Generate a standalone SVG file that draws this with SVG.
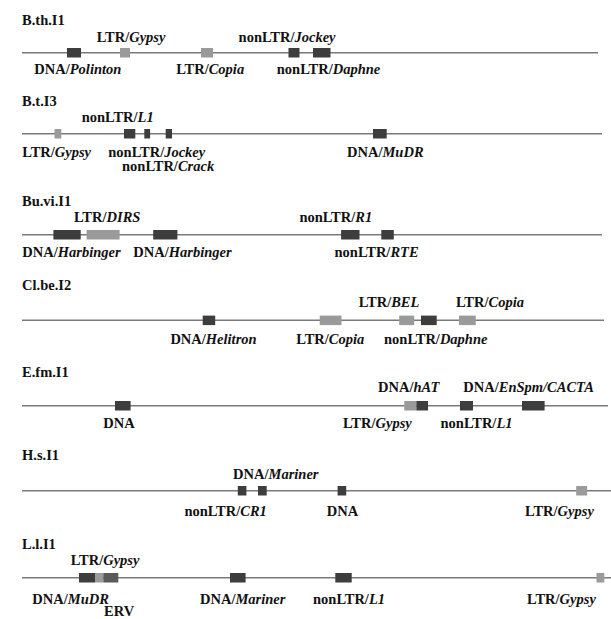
<svg xmlns="http://www.w3.org/2000/svg" width="611" height="619" viewBox="0 0 611 619">
<style>
text{font-family:"Liberation Serif","Times New Roman",serif;font-weight:bold;font-size:14.5px;fill:#111}
.i{font-style:italic}
.bb{stroke:#7a7a7a;stroke-width:1.6;fill:none}
.d{fill:#3d3d3d}
.l{fill:#9a9a9a}
.m{fill:#5a5a5a}
</style>
<rect width="611" height="619" fill="#fff"/>
<g id="backbones">
<line class="bb" x1="22" y1="52.7" x2="598" y2="52.7"/>
<line class="bb" x1="22" y1="133.7" x2="602" y2="133.7"/>
<line class="bb" x1="22" y1="234.7" x2="602" y2="234.7"/>
<line class="bb" x1="22" y1="320.3" x2="604" y2="320.3"/>
<line class="bb" x1="22" y1="405.7" x2="608" y2="405.7"/>
<line class="bb" x1="22" y1="490.7" x2="611" y2="490.7"/>
<line class="bb" x1="22" y1="577.7" x2="611" y2="577.7"/>
</g>
<g id="track-Bth">
<text x="22" y="25">B.th.I1</text>
<rect class="d" x="67" y="48" width="14" height="9.5"/>
<rect class="l" x="120" y="48" width="10" height="9.5"/>
<rect class="l" x="201" y="48" width="12" height="9.5"/>
<rect class="d" x="288.5" y="48" width="11" height="9.5"/>
<rect class="d" x="313" y="48" width="17.5" height="9.5"/>
<text x="96.7" y="41.7">LTR/<tspan class="i">Gypsy</tspan></text>
<text x="238.6" y="41.7">nonLTR/<tspan class="i">Jockey</tspan></text>
<text x="34.3" y="73.8">DNA/<tspan class="i">Polinton</tspan></text>
<text x="176.2" y="73.8">LTR/<tspan class="i">Copia</tspan></text>
<text x="276.8" y="73.8">nonLTR/<tspan class="i">Daphne</tspan></text>
</g>
<g id="track-Bt">
<text x="22" y="106">B.t.I3</text>
<rect class="l" x="54.5" y="129" width="6.8" height="9.5"/>
<rect class="d" x="124" y="129" width="11.3" height="9.5"/>
<rect class="d" x="144.3" y="129" width="5.8" height="9.5"/>
<rect class="d" x="165.7" y="129" width="6.3" height="9.5"/>
<rect class="d" x="373" y="129" width="13.7" height="9.5"/>
<text x="81.7" y="121.7">nonLTR/<tspan class="i">L1</tspan></text>
<text x="22.3" y="156.5">LTR/<tspan class="i">Gypsy</tspan></text>
<text x="108.3" y="156.5">nonLTR/<tspan class="i">Jockey</tspan></text>
<text x="122" y="170.7">nonLTR/<tspan class="i">Crack</tspan></text>
<text x="347" y="156.5">DNA/<tspan class="i">MuDR</tspan></text>
</g>
<g id="track-Buvi">
<text x="22" y="205.5">Bu.vi.I1</text>
<rect class="d" x="53.4" y="230" width="27.3" height="9.5"/>
<rect class="l" x="86.6" y="230" width="33" height="9.5"/>
<rect class="d" x="153.2" y="230" width="24.2" height="9.5"/>
<rect class="d" x="341.1" y="230" width="18.4" height="9.5"/>
<rect class="d" x="381.3" y="230" width="12.5" height="9.5"/>
<text x="74" y="221.7">LTR/<tspan class="i">DIRS</tspan></text>
<text x="299.4" y="221.7">nonLTR/<tspan class="i">R1</tspan></text>
<text x="22.3" y="256.7">DNA/<tspan class="i">Harbinger</tspan></text>
<text x="133.3" y="256.7">DNA/<tspan class="i">Harbinger</tspan></text>
<text x="334.5" y="256.7">nonLTR/<tspan class="i">RTE</tspan></text>
</g>
<g id="track-Clbe">
<text x="22" y="290">Cl.be.I2</text>
<rect class="d" x="202.7" y="315.6" width="12.5" height="9.5"/>
<rect class="l" x="319.7" y="315.6" width="21.8" height="9.5"/>
<rect class="l" x="399.2" y="315.6" width="15" height="9.5"/>
<rect class="d" x="421" y="315.6" width="15.7" height="9.5"/>
<rect class="l" x="459" y="315.6" width="16.7" height="9.5"/>
<text x="358.7" y="306.7">LTR/<tspan class="i">BEL</tspan></text>
<text x="456" y="306.7">LTR/<tspan class="i">Copia</tspan></text>
<text x="170.4" y="344">DNA/<tspan class="i">Helitron</tspan></text>
<text x="296.3" y="344">LTR/<tspan class="i">Copia</tspan></text>
<text x="384" y="344">nonLTR/<tspan class="i">Daphne</tspan></text>
</g>
<g id="track-Efm">
<text x="22" y="376.7">E.fm.I1</text>
<rect class="d" x="115" y="401" width="15.6" height="9.5"/>
<rect class="l" x="404.3" y="401" width="12.1" height="9.5"/>
<rect class="d" x="416.4" y="401" width="11.6" height="9.5"/>
<rect class="d" x="460" y="401" width="13" height="9.5"/>
<rect class="d" x="522" y="401" width="22.6" height="9.5"/>
<text x="378" y="391.7">DNA/<tspan class="i">hAT</tspan></text>
<text x="463.3" y="391.7">DNA/<tspan class="i">EnSpm/CACTA</tspan></text>
<text x="103.3" y="428.3">DNA</text>
<text x="343" y="428.3">LTR/<tspan class="i">Gypsy</tspan></text>
<text x="440.5" y="428.3">nonLTR/<tspan class="i">L1</tspan></text>
</g>
<g id="track-Hs">
<text x="22" y="460">H.s.I1</text>
<rect class="d" x="237.8" y="486" width="8.6" height="9.5"/>
<rect class="d" x="258" y="486" width="8.7" height="9.5"/>
<rect class="d" x="337.6" y="486" width="8.6" height="9.5"/>
<rect class="l" x="576.2" y="486" width="10.9" height="9.5"/>
<text x="233.1" y="479">DNA/<tspan class="i">Mariner</tspan></text>
<text x="184.4" y="516">nonLTR/<tspan class="i">CR1</tspan></text>
<text x="326.7" y="516">DNA</text>
<text x="525.1" y="516">LTR/<tspan class="i">Gypsy</tspan></text>
</g>
<g id="track-Ll">
<text x="22" y="549">L.l.I1</text>
<rect class="d" x="79" y="573" width="16" height="9.5"/>
<rect class="l" x="95" y="573" width="8.3" height="9.5"/>
<rect class="m" x="103.3" y="573" width="15" height="9.5"/>
<rect class="d" x="230" y="573" width="15.6" height="9.5"/>
<rect class="d" x="335.3" y="573" width="16.4" height="9.5"/>
<rect class="l" x="596.5" y="573" width="7.8" height="9.5"/>
<text x="70.7" y="565">LTR/<tspan class="i">Gypsy</tspan></text>
<text x="32.3" y="604">DNA/<tspan class="i">MuDR</tspan></text>
<text x="104" y="615.5">ERV</text>
<text x="200" y="604">DNA/<tspan class="i">Mariner</tspan></text>
<text x="313" y="604">nonLTR/<tspan class="i">L1</tspan></text>
<text x="527.1" y="604">LTR/<tspan class="i">Gypsy</tspan></text>
</g>
</svg>
